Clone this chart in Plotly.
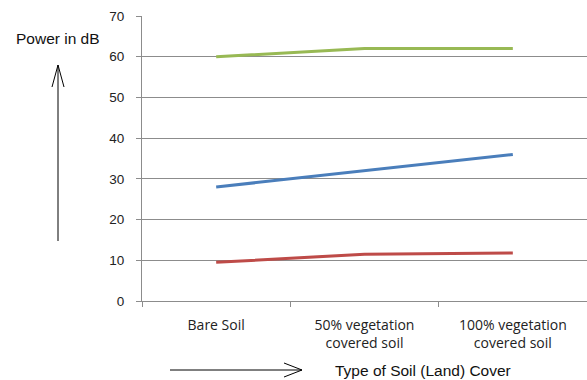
import plotly.graph_objects as go

categories = ["Bare Soil", "50% vegetation<br>covered soil", "100% vegetation<br>covered soil"]
series_blue = [28, 32, 36]
series_red = [9.5, 11.5, 11.8]
series_green = [60, 62, 62]
y_ticks = [0, 10, 20, 30, 40, 50, 60, 70]

W, H = 587, 380
ML, MR, MT, MB = 142, 0, 16, 79


def px(x):
    return (x - ML) / (W - ML - MR)


def py(y):
    return (H - MB - y) / (H - MT - MB)


fig = go.Figure()
for vals, color in [(series_blue, "#4A7EBB"), (series_red, "#BE4B48"), (series_green, "#98B954")]:
    fig.add_trace(go.Scatter(x=categories, y=vals, mode="lines",
                             line=dict(color=color, width=3), showlegend=False))

grid = "#8C8C8C"
fig.update_layout(
    width=W, height=H,
    margin=dict(l=ML, r=MR, t=MT, b=MB),
    paper_bgcolor="white", plot_bgcolor="white",
    font=dict(family="Liberation Sans, Arial, sans-serif", color="#222"),
    xaxis=dict(type="category", range=[-0.5, 2.5], showgrid=False,
               showline=True, linecolor=grid, linewidth=1,
               ticks="outside", ticklen=5, tickcolor=grid, tickson="boundaries",
               tickfont=dict(size=14, family="Open Sans, Liberation Sans, sans-serif", color="#222"),
               ticklabelstandoff=11),
    yaxis=dict(range=[0, 70], tickvals=y_ticks, showgrid=True, gridcolor=grid, gridwidth=1,
               showline=True, linecolor=grid, linewidth=1, zeroline=False,
               ticks="outside", ticklen=5, tickcolor=grid,
               tickfont=dict(size=13.5, color="#222"), ticklabelstandoff=9),
)

fig.add_annotation(x=px(14), y=py(38), xref="paper", yref="paper", text="Power in dB",
                   showarrow=False, xanchor="left", yanchor="middle",
                   font=dict(size=15.5, color="#111"))
fig.add_annotation(x=px(333), y=py(370), xref="paper", yref="paper",
                   text="Type of Soil (Land) Cover", showarrow=False,
                   xanchor="left", yanchor="middle", font=dict(size=15.5, color="#111"))

arrow = dict(color="black", width=1)
# vertical arrow
fig.add_shape(type="line", xref="paper", yref="paper", x0=px(58), y0=py(241), x1=px(58), y1=py(65), line=arrow)
fig.add_shape(type="path", xref="paper", yref="paper",
              path=f"M {px(52)},{py(87)} L {px(58)},{py(65)} L {px(64)},{py(87)}", line=arrow)
# horizontal arrow
fig.add_shape(type="line", xref="paper", yref="paper", x0=px(170), y0=py(370), x1=px(302), y1=py(370), line=arrow)
fig.add_shape(type="path", xref="paper", yref="paper",
              path=f"M {px(284)},{py(363)} L {px(302)},{py(370)} L {px(284)},{py(377)}", line=arrow)

fig.write_html("out.html")
